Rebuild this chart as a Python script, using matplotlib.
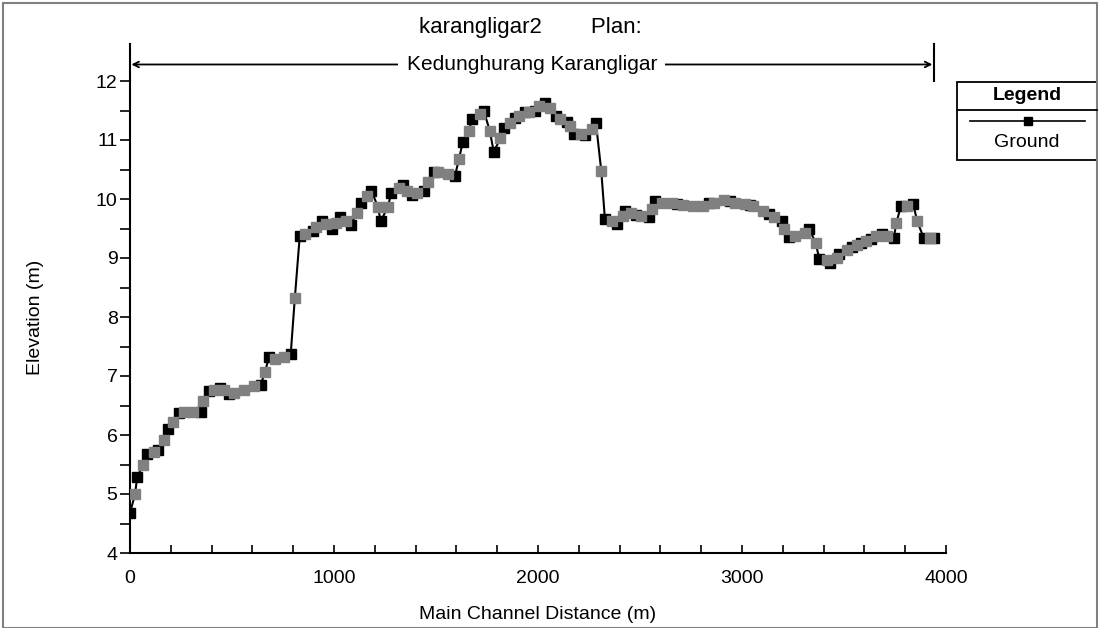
import matplotlib
matplotlib.use("Agg")
import matplotlib.pyplot as plt
from matplotlib.patches import Rectangle
from matplotlib.lines import Line2D
from matplotlib.ticker import MultipleLocator

plt.rcParams['font.family'] = ['Liberation Sans', 'DejaVu Sans']

# ground profile: station (m), elevation (m), kind (B = cross section, G = interpolated)
station = [0, 25, 35, 65, 82, 119, 139, 168, 186, 209, 241, 266, 307, 348, 359, 388, 413, 440,
           462, 486, 510, 560, 609, 641, 662, 682, 711, 755, 788, 808, 832, 858, 897, 910, 940,
           959, 992, 1008, 1029, 1060, 1082, 1111, 1131, 1163, 1183, 1215, 1229, 1264, 1281,
           1318, 1338, 1359, 1384, 1405, 1441, 1460, 1490, 1511, 1560, 1593, 1612, 1631, 1661,
           1677, 1715, 1734, 1764, 1783, 1816, 1835, 1865, 1885, 1906, 1938, 1958, 1985, 2007,
           2036, 2057, 2090, 2110, 2140, 2159, 2175, 2211, 2232, 2265, 2284, 2310, 2328, 2364,
           2386, 2416, 2428, 2455, 2480, 2506, 2545, 2558, 2575, 2607, 2656, 2680, 2710, 2762,
           2811, 2840, 2863, 2914, 2940, 2966, 3015, 3040, 3056, 3105, 3130, 3157, 3195, 3206,
           3232, 3260, 3309, 3330, 3361, 3379, 3415, 3431, 3464, 3477, 3516, 3540, 3562, 3585,
           3606, 3630, 3656, 3685, 3709, 3744, 3757, 3779, 3810, 3839, 3859, 3891, 3921, 3940]
elevation = [4.68, 5.00, 5.29, 5.49, 5.68, 5.72, 5.75, 5.91, 6.10, 6.22, 6.37, 6.39, 6.39, 6.39,
             6.57, 6.74, 6.77, 6.80, 6.76, 6.70, 6.72, 6.76, 6.83, 6.85, 7.07, 7.33, 7.29, 7.33,
             7.38, 8.32, 9.37, 9.41, 9.45, 9.53, 9.63, 9.57, 9.49, 9.60, 9.70, 9.63, 9.56, 9.76,
             9.93, 10.05, 10.14, 9.87, 9.62, 9.87, 10.10, 10.18, 10.24, 10.14, 10.07, 10.11,
             10.14, 10.29, 10.45, 10.45, 10.42, 10.39, 10.67, 10.96, 11.15, 11.36, 11.44, 11.50,
             11.15, 10.80, 11.03, 11.20, 11.29, 11.37, 11.41, 11.47, 11.48, 11.50, 11.57, 11.63,
             11.54, 11.41, 11.36, 11.30, 11.24, 11.11, 11.11, 11.08, 11.18, 11.29, 10.48, 9.66,
             9.62, 9.57, 9.71, 9.80, 9.76, 9.73, 9.71, 9.70, 9.83, 9.97, 9.94, 9.94, 9.91, 9.90,
             9.88, 9.88, 9.93, 9.94, 9.98, 9.97, 9.94, 9.91, 9.90, 9.88, 9.79, 9.74, 9.70, 9.63,
             9.50, 9.36, 9.38, 9.43, 9.50, 9.25, 8.99, 8.96, 8.92, 9.00, 9.06, 9.13, 9.18, 9.22,
             9.25, 9.28, 9.33, 9.38, 9.40, 9.38, 9.34, 9.60, 9.88, 9.88, 9.92, 9.62, 9.34, 9.34,
             9.34]
kind = ("BGBGBGBGBGB" "GGB" "GBGBGB" "GGGB" "GB" "GGB"
        "GBGBGBGBGBGBGBGBGBGBGBGBGBGB" "G" "GB"
        "GBGBGBGBGBGBGBGBGBGBGBGBGBGBGBGBGBGBGBGB" "G" "GB"
        "GGGB" "GGB" "GGB" "GGB" "GBGB" "GGB"
        "GBGBGBGBGBGBGBGBGBGBGBGB")
kind = list(kind)

title_text = "karangligar2        Plan:"
reach_name = "Kedunghurang Karangligar"
legend_name = "Ground"

W, H = 1100, 628
fig = plt.figure(figsize=(W / 100, H / 100), dpi=100)
ax = fig.add_axes([130 / W, 1 - 553 / H, (946 - 130) / W, (553 - 81) / H])

xb = [s for s, k in zip(station, kind) if k == "B"]
yb = [e for e, k in zip(elevation, kind) if k == "B"]
xg = [s for s, k in zip(station, kind) if k == "G"]
yg = [e for e, k in zip(elevation, kind) if k == "G"]

ax.plot(station, elevation, color="black", lw=1.5, zorder=2)
ax.plot(xb, yb, ls="none", marker="s", ms=7.5, color="black", zorder=3)
ax.plot(xg, yg, ls="none", marker="s", ms=7.5, color="#808080", zorder=4)

ax.set_xlim(0, 4000)
ax.set_ylim(4, 12)
ax.xaxis.set_major_locator(MultipleLocator(1000))
ax.xaxis.set_minor_locator(MultipleLocator(200))
ax.yaxis.set_major_locator(MultipleLocator(1))
ax.yaxis.set_minor_locator(MultipleLocator(0.5))
ax.tick_params(axis="x", which="both", direction="in", length=6, width=1.2, labelsize=14, pad=12)
ax.tick_params(axis="y", which="both", direction="out", length=7, width=1.2, labelsize=14, pad=2)
for side in ["top", "right"]:
    ax.spines[side].set_visible(False)
for side in ["left", "bottom"]:
    ax.spines[side].set_linewidth(1.5)

ax.set_xlabel("Main Channel Distance (m)", fontsize=14, labelpad=14)
ax.set_ylabel("Elevation (m)", fontsize=14, labelpad=37)

# reach bracket above the plot
x0, x1 = station[0], station[-1]
ytop, yarr = 12.63, 12.28
ax.plot([x0, x0], [12, ytop], color="black", lw=1.5, clip_on=False)
ax.plot([x1, x1], [12, ytop], color="black", lw=1.5, clip_on=False)
xm = (x0 + x1) / 2
for xe in [x0, x1]:
    ax.annotate("", xy=(xe, yarr), xytext=(xm, yarr), annotation_clip=False,
                arrowprops=dict(arrowstyle="->", color="black", lw=1.3, shrinkA=0, shrinkB=1))
ax.text(xm, yarr, reach_name, ha="center", va="center", fontsize=15,
        bbox=dict(facecolor="white", edgecolor="none", pad=6), clip_on=False)

fig.text(530 / W, 1 - 27 / H, title_text, ha="center", va="center", fontsize=16)

# legend box
def fx(px):
    return px / W

def fy(py):
    return 1 - py / H

fig.add_artist(Rectangle((fx(957), fy(160)), fx(1097) - fx(957), fy(82) - fy(160),
                         transform=fig.transFigure, facecolor="white", edgecolor="black", lw=1.3))
fig.add_artist(Line2D([fx(957), fx(1097)], [fy(110), fy(110)], transform=fig.transFigure,
                      color="black", lw=1.3))
fig.add_artist(Line2D([fx(970), fx(1085)], [fy(121), fy(121)], transform=fig.transFigure,
                      color="black", lw=1.2))
fig.add_artist(Line2D([fx(1028)], [fy(121)], transform=fig.transFigure, ls="none",
                      marker="s", ms=6, color="black"))
fig.text(fx(1027), fy(96), "Legend", ha="center", va="center", fontsize=14, fontweight="bold")
fig.text(fx(1027), fy(142), legend_name, ha="center", va="center", fontsize=14)

# outer frame
fig.add_artist(Rectangle((0.003, 0.0), 0.994, 0.996, transform=fig.transFigure,
                         facecolor="none", edgecolor="#808080", lw=1.5))

fig.savefig("out.png", dpi=100)
